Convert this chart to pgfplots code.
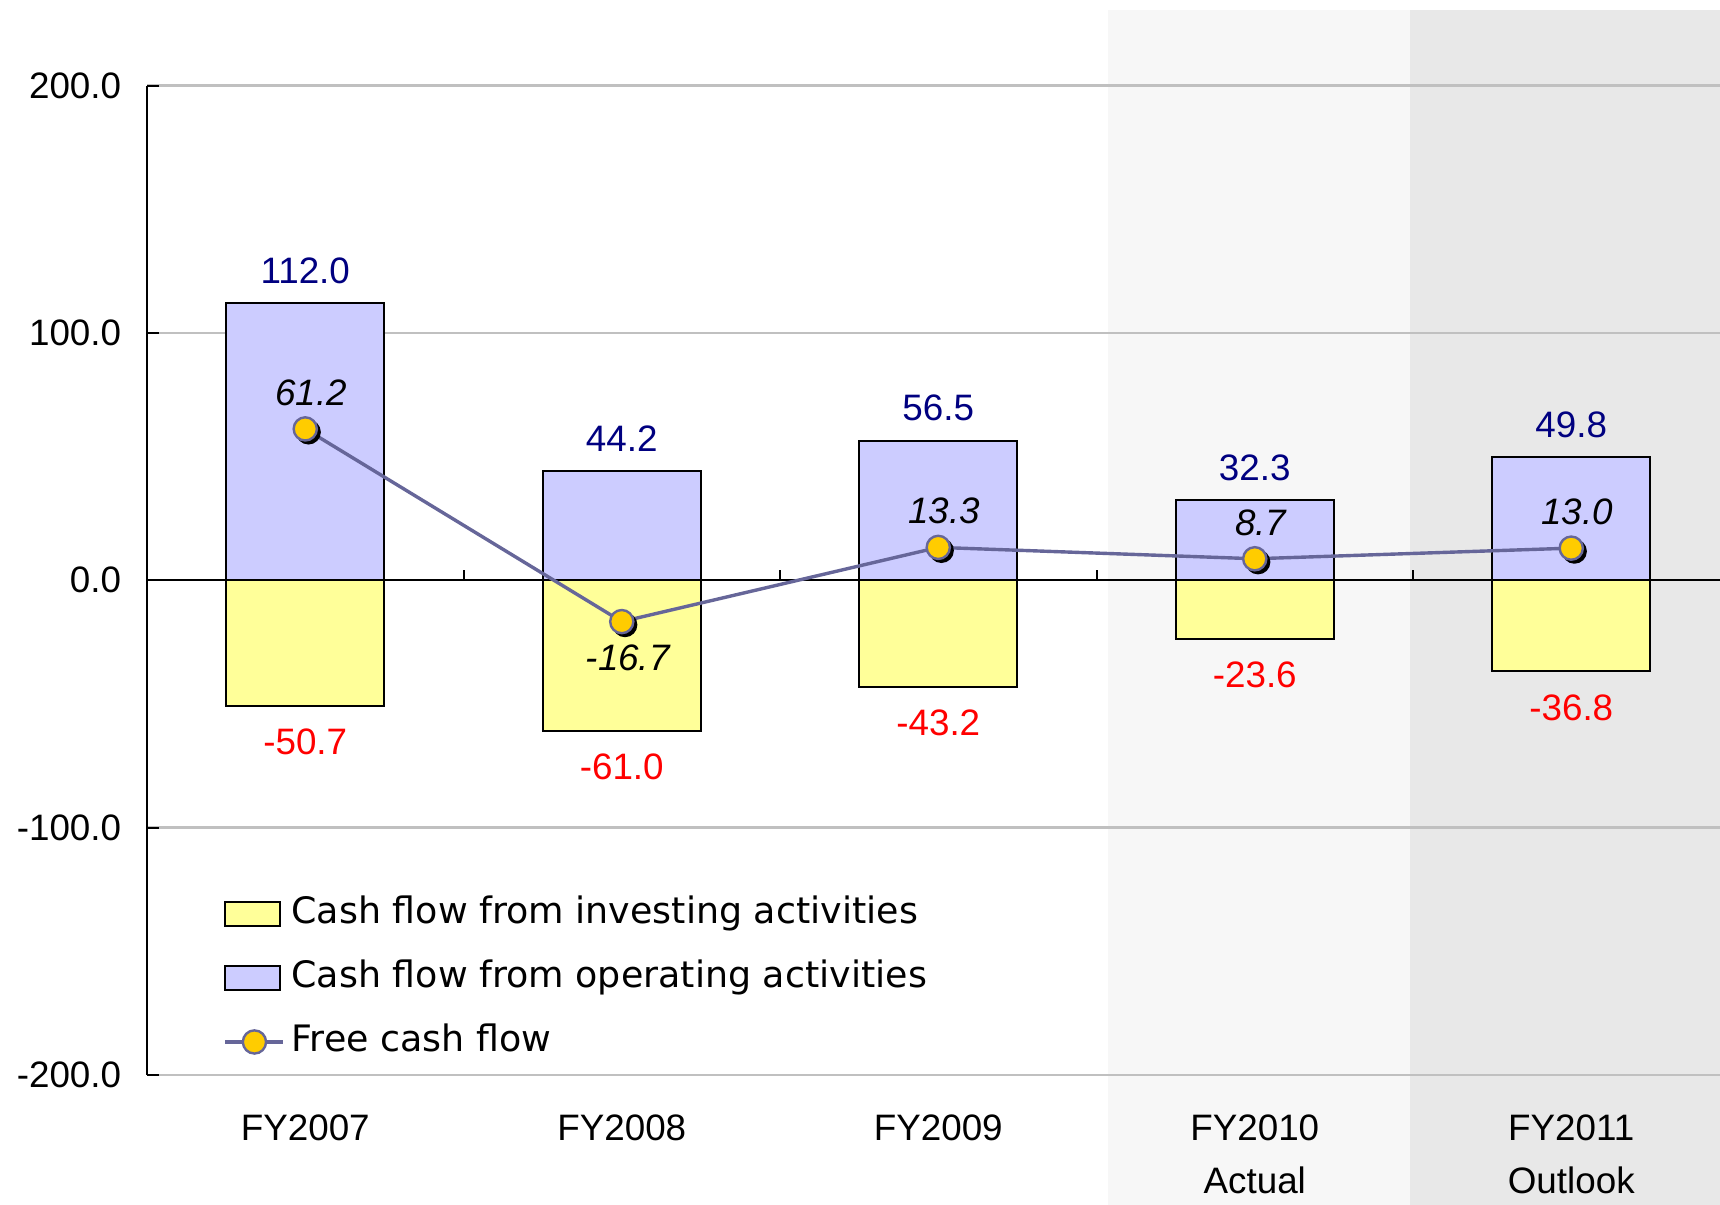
\documentclass[border=0pt]{standalone}
\usepackage{pgfplots}
\pgfplotsset{compat=1.18}
\usepackage{fontspec}
\setmainfont{Liberation Sans}
\newfontfamily\legfont{DejaVu Sans}
\definecolor{opc}{HTML}{CCCCFF}
\definecolor{invc}{HTML}{FFFF99}
\definecolor{fcfline}{HTML}{666699}
\definecolor{fcfmark}{HTML}{FFCC00}
\definecolor{shadeA}{HTML}{F7F7F7}
\definecolor{shadeB}{HTML}{E8E8E8}
\definecolor{gridc}{HTML}{C0C0C0}
\definecolor{navyc}{HTML}{000080}
\begin{document}
\fontsize{9.2}{11}\selectfont
\begin{tikzpicture}
\begin{axis}[
  name=ax, set layers, clip=false,
  scale only axis, width=393.25pt, height=247.35pt,
  xmin=-0.5, xmax=4.47, ymin=-200, ymax=200,
  axis y line*=left, axis x line*=bottom,
  x axis line style={draw=none},
  y axis line style={black, line width=0.5pt},
  ytick={-200,-100,0,100,200},
  yticklabel={\pgfmathprintnumber[fixed,fixed zerofill,precision=1]{\tick}},
  /pgf/number format/assume math mode=true,
  yticklabel style={xshift=-3.2pt},
  ymajorgrids, major grid style={gridc, line width=0.6pt},
  tick align=inside, major tick length=3pt,
  ytick style={black, line width=0.5pt},
  xtick={0,1,2,3,4},
  xtick style={draw=none},
  xticklabels={FY2007,FY2008,FY2009,{FY2010\\Actual},{FY2011\\Outlook}},
  xticklabel style={align=center, yshift=-6.6pt, font=\fontsize{9.2}{13.3}\selectfont},
  legend cell align=left,
  legend style={at={(axis cs:-0.26,-127.3)}, anchor=north west, draw=none, fill=none,
    font=\legfont\fontsize{9.1}{11}\selectfont, row sep=7pt, inner sep=0pt,
    nodes={inner sep=0pt, text height=7pt, text depth=2pt},
    /tikz/every odd column/.append style={column sep=1.6pt}},
]
\begin{pgfonlayer}{axis background}
\fill[shadeA] (axis cs:2.535,-252.5) rectangle (axis cs:3.49,230.5);
\fill[shadeB] (axis cs:3.49,-252.5) rectangle (axis cs:4.47,230.5);
\end{pgfonlayer}

\addplot[ybar, bar width=0.5, bar shift=0pt, fill=invc, draw=black, line width=0.5pt,
  point meta=y,
  nodes near coords={\pgfmathprintnumber[fixed,fixed zerofill,precision=1]{\pgfplotspointmeta}},
  nodes near coords align=vertical,
  every node near coord/.append style={text=red, inner sep=5.5pt},
  legend image code/.code={\draw[fill=invc, draw=black, line width=0.5pt] (0pt,-3pt) rectangle (13.75pt,3pt);}]
  coordinates {(0,-50.7) (1,-61.0) (2,-43.2) (3,-23.6) (4,-36.8)};
\addlegendentry{Cash flow from investing activities}

\addplot[ybar, bar width=0.5, bar shift=0pt, fill=opc, draw=black, line width=0.5pt,
  point meta=y,
  nodes near coords={\pgfmathprintnumber[fixed,fixed zerofill,precision=1]{\pgfplotspointmeta}},
  nodes near coords align=vertical,
  every node near coord/.append style={text=navyc, inner sep=4.6pt},
  legend image code/.code={\draw[fill=opc, draw=black, line width=0.5pt] (0pt,-3pt) rectangle (13.75pt,3pt);}]
  coordinates {(0,112.0) (1,44.2) (2,56.5) (3,32.3) (4,49.8)};
\addlegendentry{Cash flow from operating activities}

\draw[black, line width=0.5pt] (axis cs:-0.5,0) -- (axis cs:4.47,0);
\draw[black, line width=0.5pt] (axis cs:0.5,0) -- ++(0pt,2.5pt);
\draw[black, line width=0.5pt] (axis cs:1.5,0) -- ++(0pt,2.5pt);
\draw[black, line width=0.5pt] (axis cs:2.5,0) -- ++(0pt,2.5pt);
\draw[black, line width=0.5pt] (axis cs:3.5,0) -- ++(0pt,2.5pt);

\addplot[forget plot, only marks, mark=*, mark size=2.9pt,
  mark options={fill=black, draw=black, xshift=0.8pt, yshift=-0.8pt}]
  coordinates {(0,61.2) (1,-16.7) (2,13.3) (3,8.7) (4,13.0)};

\addplot[fcfline, line width=0.85pt, mark=*, mark size=2.9pt,
  mark options={fill=fcfmark, draw=fcfline, line width=0.6pt},
  point meta=y,
  nodes near coords={\pgfmathprintnumber[fixed,fixed zerofill,precision=1]{\pgfplotspointmeta}},
  nodes near coords align=vertical,
  every node near coord/.append style={text=black, font=\itshape, inner sep=5.5pt, xshift=1.5pt},
  legend image code/.code={\draw[fcfline, line width=0.85pt] (0pt,0pt) -- (14.5pt,0pt);
    \draw[fcfline, fill=fcfmark, line width=0.6pt] (7.25pt,0pt) circle (2.9pt);}]
  coordinates {(0,61.2) (1,-16.7) (2,13.3) (3,8.7) (4,13.0)};
\addlegendentry{Free cash flow}
\end{axis}
\pgfresetboundingbox
\path ([shift={(-36.75pt,-32.5pt)}]ax.south west) rectangle ([shift={(0pt,21.4pt)}]ax.north east);
\end{tikzpicture}
\end{document}
